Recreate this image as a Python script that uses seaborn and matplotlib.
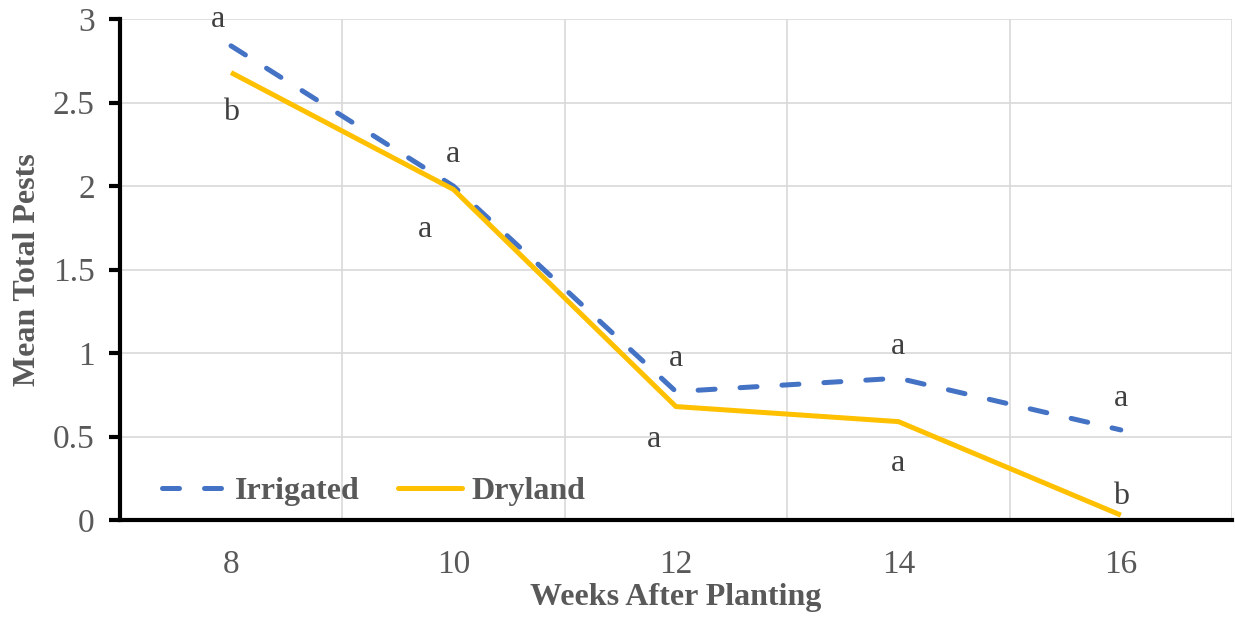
import matplotlib
matplotlib.use("Agg")
import matplotlib.pyplot as plt
import seaborn as sns
import pandas as pd
from matplotlib.lines import Line2D

weeks = [8, 10, 12, 14, 16]
irrigated = [2.84, 2.00, 0.77, 0.85, 0.54]
dryland = [2.68, 1.98, 0.68, 0.59, 0.03]
irrigated_letters = ["a", "a", "a", "a", "a"]
dryland_letters = ["b", "a", "a", "a", "b"]
series_names = ["Irrigated", "Dryland"]
x_label = "Weeks After Planting"
y_label = "Mean Total Pests"

# label placement offsets (x, y) in data units
irr_offsets = [(-0.12, 0.16), (0.0, 0.19), (0.0, 0.20), (0.0, 0.19), (0.0, 0.19)]
dry_offsets = [(0.0, -0.24), (-0.26, -0.24), (-0.20, -0.20), (0.0, -0.25), (0.0, 0.11)]

sns.set_theme(style="white")
plt.rcParams['font.family'] = ['Liberation Serif', 'DejaVu Serif']

df = pd.DataFrame({
    "week": weeks * 2,
    "value": irrigated + dryland,
    "series": [series_names[0]] * len(weeks) + [series_names[1]] * len(weeks),
})

colors = {"Irrigated": "#4472C4", "Dryland": "#FFC000"}
LW = 3.6
DASH = (3.4, 5.0)
fig = plt.figure(figsize=(12.35, 6.17), dpi=100)
ax = fig.add_axes([0.097, 0.157, 0.9006, 0.812])

sns.lineplot(data=df, x="week", y="value", hue="series", style="series",
             palette=colors, dashes={"Irrigated": DASH, "Dryland": ""},
             linewidth=LW, ax=ax, legend=False, zorder=3)
for line in ax.get_lines():
    line.set_solid_capstyle("butt")
    line.set_dash_capstyle("round")

ax.set_xlim(7, 17)
ax.set_ylim(0, 3)
ax.set_xticks(weeks)
ax.set_xticks([7, 9, 11, 13, 15, 17], minor=True)
ax.set_yticks([0, 0.5, 1, 1.5, 2, 2.5, 3])
ax.set_yticklabels(["0", "0.5", "1", "1.5", "2", "2.5", "3"])
ax.tick_params(axis="x", which="major", length=0, pad=21, labelsize=24, labelcolor="#595959")
ax.tick_params(axis="x", which="minor", length=7, width=3, color="black", direction="out")
ax.tick_params(axis="y", which="major", length=8, width=3, color="black", direction="out",
               pad=10, labelsize=24, labelcolor="#595959", left=True)

ax.grid(False)
ax.grid(True, axis="y", which="major", color="#d9d9d9", linewidth=1.2, zorder=0)
ax.grid(True, axis="x", which="minor", color="#d9d9d9", linewidth=1.2, zorder=0)
for s in ["top", "right"]:
    ax.spines[s].set_visible(False)
for s in ["left", "bottom"]:
    ax.spines[s].set_color("black")
    ax.spines[s].set_linewidth(3)
    ax.spines[s].set_zorder(4)

ax.set_xlabel(x_label, fontsize=23, fontweight="bold", color="#595959", labelpad=2)
ax.set_ylabel(y_label, fontsize=23, fontweight="bold", color="#595959", labelpad=8)

for i, w in enumerate(weeks):
    dx, dy = irr_offsets[i]
    ax.text(w + dx, irrigated[i] + dy, irrigated_letters[i], ha="center", va="center",
            fontsize=23, color="#404040")
    dx, dy = dry_offsets[i]
    ax.text(w + dx, dryland[i] + dy, dryland_letters[i], ha="center", va="center",
            fontsize=23, color="#404040")

handles = [Line2D([], [], color=colors["Irrigated"], lw=LW, dashes=DASH, dash_capstyle="round"),
           Line2D([], [], color=colors["Dryland"], lw=LW, solid_capstyle="round")]
leg = ax.legend(handles, series_names, loc="lower left", ncol=2, frameon=False,
                bbox_to_anchor=(0.012, -0.029), handlelength=2.0, handletextpad=0.3,
                columnspacing=1.2, prop={"size": 23, "weight": "bold"})
for t in leg.get_texts():
    t.set_color("#595959")

fig.savefig("out.png", dpi=100)
